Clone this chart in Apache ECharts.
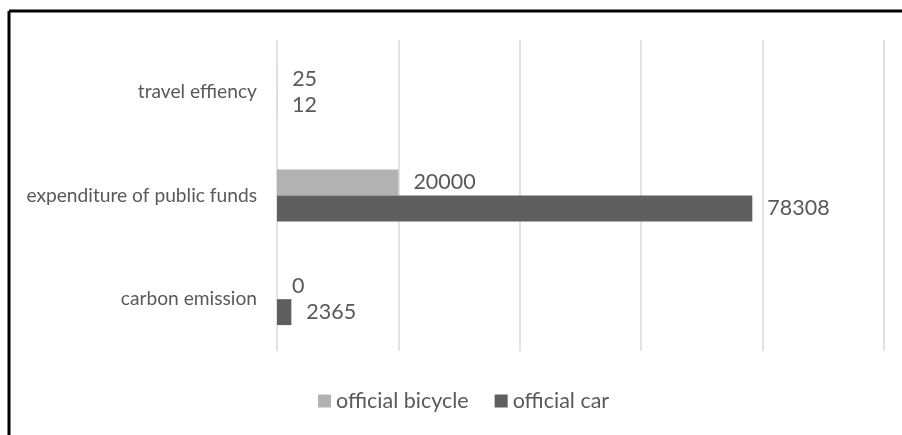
<!DOCTYPE html>
<html>
<head>
<meta charset="utf-8">
<script src="https://cdn.jsdelivr.net/npm/echarts@6/dist/echarts.min.js"></script>
<style>
  html, body { margin: 0; padding: 0; background: #fff; }
  #main-chart { width: 902px; height: 435px; }
</style>
</head>
<body>
<div id="main-chart"></div>
<script>
const categories = ['travel effiency', 'expenditure of public funds', 'carbon emission']
const seriesNames = ['official bicycle', 'official car']
const bicycleValues = [25, 20000, 0]
const carValues = [12, 78308, 2365]
const colors = ['#b2b2b2', '#5f5f5f']

const FONT = 'Lato'
const TEXT_COLOR = '#595959'

const chart = echarts.init(document.getElementById('main-chart'))

const series = [bicycleValues, carValues].map((data, i) => ({
  name: seriesNames[i],
  type: 'bar',
  data: data,
  barGap: '0%',
  barCategoryGap: '50%',
  itemStyle: { color: colors[i] },
  label: {
    show: true,
    position: 'right',
    distance: 15,
    color: TEXT_COLOR,
    fontFamily: FONT,
    fontSize: 21.5
  }
}))

chart.setOption({
  animation: false,
  grid: { left: 277, right: 18, top: 40, bottom: 84 },
  legend: {
    bottom: 18,
    left: 313,
    icon: 'rect',
    itemWidth: 13,
    itemHeight: 13,
    itemGap: 26,
    itemStyle: { borderWidth: 0 },
    textStyle: { color: TEXT_COLOR, fontFamily: FONT, fontSize: 21.5 },
    data: seriesNames
  },
  xAxis: {
    type: 'value',
    min: 0,
    max: 100000,
    interval: 20000,
    axisLabel: { show: false },
    axisLine: { show: false },
    axisTick: { show: false },
    splitLine: { lineStyle: { color: '#d9d9d9', width: 1.5 } }
  },
  yAxis: {
    type: 'category',
    inverse: true,
    data: categories,
    axisLine: { show: false },
    axisTick: { show: false },
    axisLabel: { color: TEXT_COLOR, fontFamily: FONT, fontSize: 19.2, margin: 20 }
  },
  graphic: [
    { type: 'line', shape: { x1: 9, y1: 11, x2: 902, y2: 11 }, style: { stroke: '#000', lineWidth: 3 } },
    { type: 'line', shape: { x1: 9, y1: 11, x2: 9, y2: 435 }, style: { stroke: '#000', lineWidth: 3 } }
  ],
  series: series
})
</script>
</body>
</html>
